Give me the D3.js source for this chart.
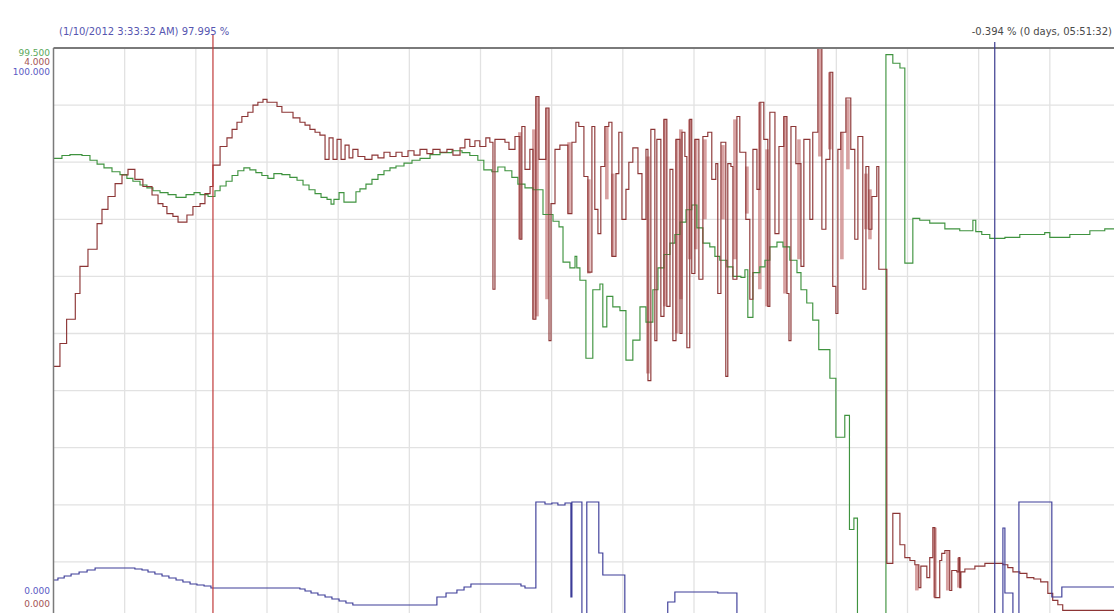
<!DOCTYPE html>
<html>
<head>
<meta charset="utf-8">
<script src="https://cdn.jsdelivr.net/npm/d3@7"></script>
<style>
  html, body { margin: 0; padding: 0; background: #ffffff; }
  svg { display: block; }
  text { font-family: "DejaVu Sans", Verdana, sans-serif; }
</style>
</head>
<body>
<svg id="chart" width="1114" height="613"></svg>
<script>
// ---- Trend window: 8 hours, 15 vertical divisions, 10 horizontal divisions ----
const startTime = new Date(2012, 0, 10, 2, 21, 50);
const spanMinutes = 480;
const xDivisions = 15;
const yDivisions = 10;

// Cursor times
const cursorA = new Date(2012, 0, 10, 3, 33, 32);
const cursorB = new Date(2012, 0, 10, 9, 25, 4);

// Header readouts
const headerLeft = "(1/10/2012 3:33:32 AM) 97.995 %";
const headerRight = "-0.394 % (0 days, 05:51:32)";

// Pen ranges and their scale labels
const greenRange = [93.5, 99.5];
const brownRange = [0, 4];
const blueRange = [0, 100];
const topLabels = ["99.500", "4.000", "100.000"];     // green, brown, blue
const bottomLabels = ["0.000", "0.000"];              // blue, brown

// Pen samples: [minutes after window start, value]
const greenPts = [
  [0,98.34],[3.8,98.37],[7.4,98.38],[12.8,98.37],[16.4,98.32],[19.6,98.28],[22.7,98.24],[26.3,98.20],
  [29.9,98.17],[33.0,98.13],[35.7,98.10],[38.9,98.06],[42.0,98.03],[44.7,98.00],[47.9,97.98],[51.5,97.96],
  [55.1,97.93],[59.6,97.96],[63.2,97.98],[65.9,97.96],[69.5,97.94],[72.6,98.00],[74.9,98.05],[77.6,98.10],
  [80.3,98.16],[82.9,98.21],[85.6,98.24],[88.3,98.22],[91.0,98.19],[93.7,98.16],[96.4,98.13],[99.1,98.18],
  [102.7,98.17],[106.3,98.14],[109.5,98.11],[112.2,98.06],[114.9,98.01],[117.6,97.97],[120.3,97.93],[123.0,97.91],
  [124.8,97.86],[126.1,97.91],[128.4,97.98],[130.6,97.88],[136.0,97.99],[137.8,98.02],[140.5,98.07],[143.2,98.12],
  [145.9,98.17],[148.6,98.21],[151.3,98.24],[154.0,98.26],[157.6,98.29],[161.2,98.32],[164.8,98.34],[169.3,98.38],
  [173.8,98.40],[179.2,98.42],[183.7,98.40],[187.2,98.37],[190.8,98.32],[193.5,98.22],[197.1,98.20],[199.8,98.25],
  [203.0,98.21],[206.1,98.14],[208.8,98.07],[212.0,98.03],[215.6,98.01],[220.1,97.75],[224.6,97.68],[227.3,97.62],
  [229.1,97.25],[232.2,97.19],[234.5,97.31],[235.3,97.19],[236.7,97.06],[239.4,96.24],[242.5,96.96],[245.7,97.02],
  [247.0,96.57],[248.8,96.89],[251.5,96.78],[254.7,96.74],[257.4,96.22],[260.5,96.43],[263.7,96.78],[266.4,96.62],
  [269.5,96.96],[271.8,97.19],[274.5,97.33],[277.2,97.45],[279.4,97.54],[281.7,97.67],[284.4,97.80],[287.0,97.85],
  [289.3,97.61],[292.0,97.45],[295.1,97.41],[297.4,97.31],[299.6,97.27],[302.8,97.20],[305.5,97.10],[309.1,97.09],
  [310.9,97.17],[312.2,96.67],[314.5,97.14],[317.6,97.20],[319.9,97.27],[322.1,97.41],[325.3,97.46],[328.0,97.41],
  [331.1,97.27],[334.3,97.14],[336.1,96.96],[338.7,96.82],[341.4,96.64],[344.1,96.33],[349.1,96.03],[351.8,95.41],
  [355.8,95.64],[357.9,94.44],[359.9,94.56],[361.5,93.30],[374.3,99.43],[377.4,99.34],[380.6,99.29],[382.8,97.24],
  [386.4,97.71],[389.5,97.69],[394.0,97.66],[400.8,97.60],[407.5,97.58],[413.4,97.69],[414.7,97.57],[417.4,97.54],
  [421.0,97.50],[427.8,97.51],[434.5,97.54],[445.7,97.56],[448.0,97.51],[457.0,97.54],[466.0,97.58],[472.7,97.60],
  [480,97.61]
];

const brownPts = [
  [0,1.77],[2.9,1.93],[5.9,2.10],[9.8,2.28],[11.9,2.47],[15.5,2.59],[19.6,2.77],[21.8,2.87],[24.5,2.96],
  [27.7,3.05],[30.8,3.11],[33.5,3.15],[36.6,3.08],[40.2,3.03],[44.3,2.97],[47.0,2.91],[49.2,2.89],[51.0,2.84],
  [53.7,2.82],[56.0,2.78],[60.0,2.83],[62.7,2.89],[65.9,2.91],[68.1,2.98],[70.4,3.03],[71.7,3.18],[74.9,3.31],
  [78.0,3.37],[80.3,3.43],[82.5,3.48],[84.7,3.52],[87.4,3.55],[89.7,3.60],[91.9,3.62],[94.2,3.64],[96.0,3.62],
  [98.2,3.62],[100.5,3.59],[102.7,3.55],[105.0,3.55],[107.7,3.51],[110.8,3.48],[113.1,3.46],[115.3,3.43],
  [117.6,3.41],[119.8,3.39],[122.1,3.22],[123.9,3.37],[125.7,3.22],[127.5,3.36],[129.3,3.22],[131.1,3.32],
  [132.9,3.23],[134.6,3.29],[136.9,3.24],[140.0,3.22],[143.2,3.25],[145.9,3.23],[148.6,3.27],[151.3,3.24],
  [154.0,3.27],[156.7,3.24],[159.4,3.28],[162.1,3.25],[164.8,3.29],[167.9,3.26],[170.6,3.29],[173.8,3.27],
  [176.9,3.29],[179.6,3.25],[182.8,3.30],[185.0,3.36],[187.2,3.31],[189.5,3.35],[191.7,3.31],[194.4,3.37],
  [196.2,3.34],[197.6,2.31],[198.5,3.36],[203.0,3.34],[204.8,3.29],[207.5,3.38],[209.7,2.66],[210.6,3.45],
  [212.0,3.15],[214.2,3.29],[215.6,2.10],[216.9,3.66],[218.3,3.22],[221.4,3.58],[222.8,1.95],[223.7,2.91],
  [225.5,3.29],[227.7,3.32],[231.3,2.84],[233.1,3.34],[234.9,3.48],[236.2,3.45],[238.5,3.10],[240.3,2.43],
  [242.1,3.45],[243.4,2.87],[244.8,2.70],[246.1,3.17],[247.9,3.45],[249.7,3.48],[251.1,2.54],[252.9,3.12],
  [254.2,3.41],[255.6,2.80],[257.4,3.01],[258.7,3.20],[260.5,3.30],[262.8,3.12],[264.6,2.80],[266.4,3.29],
  [267.3,1.67],[268.6,3.43],[270.4,1.95],[271.3,3.36],[273.1,2.12],[274.5,3.50],[275.8,2.19],[277.2,3.15],
  [278.5,1.95],[279.9,3.36],[281.7,2.00],[282.6,3.41],[283.9,3.24],[284.8,1.90],[286.1,3.50],[287.0,2.42],
  [288.4,3.36],[290.2,2.38],[292.0,3.38],[294.2,3.41],[296.0,3.08],[297.8,3.19],[298.7,2.28],[300.1,3.34],
  [302.3,1.70],[303.2,3.19],[304.6,3.17],[305.5,2.38],[307.3,3.52],[308.6,3.27],[311.3,2.80],[313.1,2.24],
  [314.5,3.29],[316.3,3.01],[317.6,3.62],[319.4,3.36],[321.2,2.19],[322.1,3.55],[324.4,2.70],[326.2,3.31],
  [328.4,3.52],[329.8,2.28],[330.7,1.95],[331.6,3.45],[333.8,3.19],[336.1,2.47],[337.4,3.36],[340.1,2.80],
  [341.4,3.41],[343.7,4.00],[345.5,2.73],[347.3,3.22],[349.1,3.83],[350.4,2.33],[351.8,2.14],[352.7,3.29],
  [354.0,3.41],[356.3,3.65],[358.5,3.29],[360.3,2.66],[361.7,3.38],[363.9,2.31],[365.3,3.17],[366.6,2.73],
  [368.0,2.96],[370.2,3.17],[371.1,2.45],[374.7,0.39],[377.4,0.74],[380.6,0.52],[382.8,0.43],[385.1,0.41],
  [387.3,0.38],[389.1,0.22],[390.0,0.37],[392.7,0.29],[394.0,0.43],[395.4,0.64],[396.3,0.15],[398.5,0.41],
  [399.4,0.46],[400.8,0.48],[403.0,0.20],[403.9,0.34],[406.2,0.33],[407.1,0.43],[407.5,0.22],[408.0,0.33],
  [409.8,0.35],[414.3,0.37],[418.8,0.39],[423.3,0.39],[426.9,0.38],[429.1,0.36],[431.4,0.33],[434.5,0.32],
  [437.7,0.29],[440.8,0.28],[443.9,0.26],[447.1,0.18],[449.3,0.13],[451.6,0.10],[453.8,0.06],[480,0.06]
];

// Min/max envelope bars on the brown pen: [minutes, high, low]
const brownBands = [
  [209.7,3.41,2.66],[216.0,3.43,2.10],[217.4,3.66,2.12],[221.9,3.58,2.24],[231.8,3.34,2.84],[240.7,3.08,2.42],
  [248.8,3.45,2.94],[251.5,3.12,2.54],[267.3,3.24,1.72],[274.9,3.50,2.19],[280.3,3.36,2.00],[282.1,3.43,2.24],
  [286.1,3.50,2.52],[288.8,3.36,2.59],[292.9,3.36,2.80],[301.0,3.32,2.80],[306.4,3.50,2.52],[311.8,3.17,2.84],
  [317.6,3.62,2.31],[320.8,3.29,2.19],[328.9,3.52,2.28],[335.2,3.36,2.52],[344.6,4.00,3.24],[349.1,3.83,3.29],
  [354.5,3.41,2.52],[357.2,3.64,3.15],[365.3,3.12,2.73],[367.1,3.01,2.66],[388.2,0.38,0.20],[396.3,0.64,0.15],
  [402.1,0.48,0.20],[407.1,0.43,0.22]
];

const bluePts = [
  [0,6.83],[2.0,7.18],[4.8,7.53],[7.9,7.88],[11.5,8.23],[15.1,8.58],[18.7,8.93],[36.6,8.76],[39.8,8.58],
  [42.5,8.23],[45.6,7.88],[48.8,7.53],[51.9,7.18],[55.1,6.83],[58.2,6.48],[61.4,6.13],[64.5,5.95],[67.7,5.78],
  [70.8,5.43],[110.8,5.25],[113.1,4.90],[115.8,4.55],[118.9,4.20],[122.1,3.85],[125.2,3.50],[128.4,3.15],
  [131.5,2.80],[134.6,2.45],[172.4,3.85],[176.5,4.55],[181.4,5.08],[184.6,5.60],[187.7,6.13],[210.2,5.78],
  [212.0,5.43],[216.9,20.49],[221.0,20.14],[224.1,20.32],[226.8,19.96],[230.0,20.32],[232.65,3.85],[233.1,20.49],
  [237.6,0],[239.8,20.49],[245.2,11.56],[247.0,7.71],[256.9,0],[276.2,2.98],[279.4,4.73],[298.7,4.55],
  [307.3,0],[426.9,15.94],[427.8,4.55],[431.4,0],[434.1,20.49],[448.9,3.85],[453.4,5.60],[480,5.60]
];

// ---- Layout ----
const plot = { left: 53.5, top: 48, right: 1121, bottom: 619 };
const minute = 60000;
const toDate = m => new Date(startTime.getTime() + m * minute);

const x = d3.scaleTime()
  .domain([startTime, toDate(spanMinutes)])
  .range([plot.left, plot.right]);
const yGreen = d3.scaleLinear().domain(greenRange).range([plot.bottom, plot.top]);
const yBrown = d3.scaleLinear().domain(brownRange).range([plot.bottom, plot.top]);
const yBlue = d3.scaleLinear().domain(blueRange).range([plot.bottom, plot.top]);
const yDiv = d3.scaleLinear().domain([0, yDivisions]).range([plot.bottom, plot.top]);

const svg = d3.select("#chart");

svg.append("defs").append("clipPath").attr("id", "plotClip")
  .append("rect")
  .attr("x", plot.left).attr("y", plot.top)
  .attr("width", plot.right - plot.left).attr("height", plot.bottom - plot.top);

// Grid
const stepMin = spanMinutes / xDivisions;
const grid = svg.append("g").attr("stroke", "#e2e2e2").attr("stroke-width", 1.3);
grid.selectAll("line.v")
  .data(d3.range(1, xDivisions).map(k => toDate(k * stepMin)))
  .join("line").attr("class", "v")
  .attr("x1", d => x(d)).attr("x2", d => x(d))
  .attr("y1", plot.top).attr("y2", plot.bottom);
grid.selectAll("line.h")
  .data(d3.range(1, yDivisions))
  .join("line").attr("class", "h")
  .attr("x1", plot.left).attr("x2", plot.right)
  .attr("y1", d => yDiv(d)).attr("y2", d => yDiv(d));

// Pens
const pens = svg.append("g").attr("clip-path", "url(#plotClip)").attr("fill", "none");

pens.selectAll("rect.band")
  .data(brownBands)
  .join("rect").attr("class", "band")
  .attr("x", d => x(toDate(d[0])) - 1.8)
  .attr("width", 3.6)
  .attr("y", d => yBrown(d[1]))
  .attr("height", d => yBrown(d[2]) - yBrown(d[1]))
  .attr("fill", "#c98282")
  .attr("opacity", 0.75);

const stepLine = y => d3.line()
  .x(d => x(toDate(d[0])))
  .y(d => y(d[1]))
  .curve(d3.curveStepAfter);

pens.append("path").datum(greenPts)
  .attr("d", stepLine(yGreen))
  .attr("stroke", "#3f933f").attr("stroke-width", 1.15);

pens.append("path").datum(brownPts)
  .attr("d", stepLine(yBrown))
  .attr("stroke", "#8c3535").attr("stroke-width", 1.15);

pens.append("path").datum(bluePts)
  .attr("d", stepLine(yBlue))
  .attr("stroke", "#3c3c98").attr("stroke-width", 1.15);

// Frame
svg.append("line")
  .attr("x1", plot.left).attr("x2", 1114)
  .attr("y1", plot.top).attr("y2", plot.top)
  .attr("stroke", "#7a7a7a").attr("stroke-width", 2);
svg.append("line")
  .attr("x1", plot.left).attr("x2", plot.left)
  .attr("y1", plot.top).attr("y2", 613)
  .attr("stroke", "#7a7a7a").attr("stroke-width", 1.5);

// Cursors
svg.append("line")
  .attr("x1", x(cursorA)).attr("x2", x(cursorA))
  .attr("y1", 34).attr("y2", 613)
  .attr("stroke", "#c03838").attr("stroke-width", 1.2);
svg.append("line")
  .attr("x1", x(cursorB)).attr("x2", x(cursorB))
  .attr("y1", 42).attr("y2", 613)
  .attr("stroke", "#3a3a8e").attr("stroke-width", 1.2);

// Header readouts
svg.append("text")
  .attr("x", 59).attr("y", 35)
  .attr("font-size", 10).attr("fill", "#5656b0")
  .text(headerLeft);
svg.append("text")
  .attr("x", 1112).attr("y", 35)
  .attr("text-anchor", "end")
  .attr("font-size", 10).attr("fill", "#4a4a4a")
  .text(headerRight);

// Pen scale labels
const topColors = ["#5aa85a", "#a45454", "#5a5ac4"];
svg.selectAll("text.top")
  .data(topLabels)
  .join("text").attr("class", "top")
  .attr("x", 50).attr("y", (d, i) => 55.5 + i * 9.5)
  .attr("text-anchor", "end").attr("font-size", 9)
  .attr("fill", (d, i) => topColors[i])
  .text(d => d);

const bottomColors = ["#5a5ac4", "#a45454"];
svg.selectAll("text.bottom")
  .data(bottomLabels)
  .join("text").attr("class", "bottom")
  .attr("x", 50).attr("y", (d, i) => 593.5 + i * 13)
  .attr("text-anchor", "end").attr("font-size", 9)
  .attr("fill", (d, i) => bottomColors[i])
  .text(d => d);
</script>
</body>
</html>
